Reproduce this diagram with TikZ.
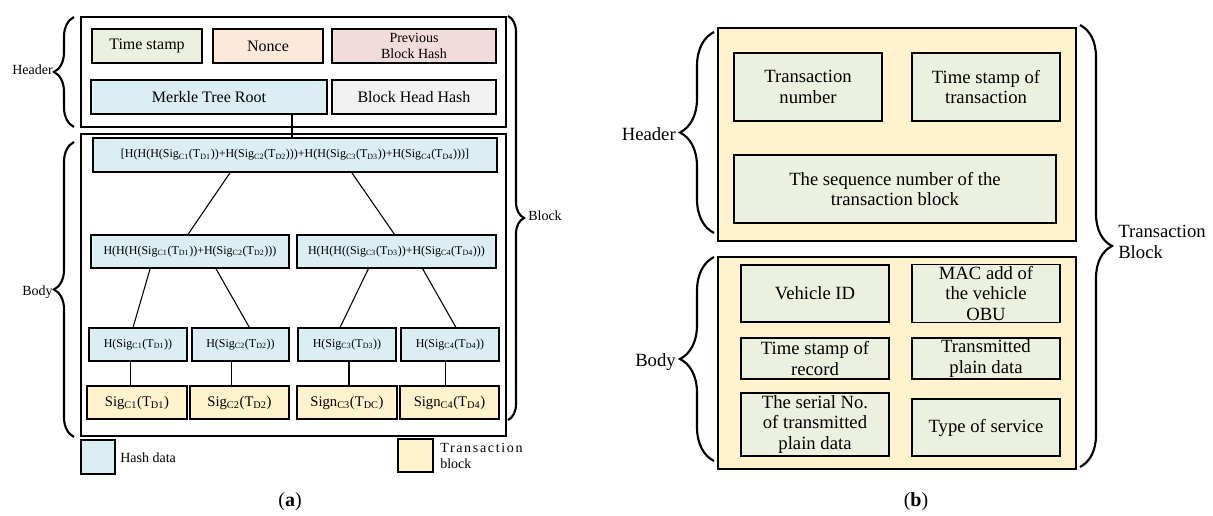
\documentclass[tikz,border=0pt]{standalone}
\usepackage{fontspec}
\setmainfont{Liberation Serif}
\newfontfamily\spacedfont[LetterSpace=12]{Liberation Serif}
\usepackage{tikz}
\usetikzlibrary{calc,positioning,decorations.pathreplacing}
\usepackage{xcolor}
\definecolor{hashblue}{HTML}{DAEEF3}
\definecolor{txyellow}{HTML}{FFF2CC}
\definecolor{stampgreen}{HTML}{EBF1DE}
\definecolor{noncepeach}{HTML}{FDE9D9}
\definecolor{prevpink}{HTML}{F2DCDB}
\definecolor{headgray}{HTML}{F2F2F2}
\newlength{\pxu}
\setlength{\pxu}{0.75pt}
\newcommand{\sg}[2]{Sig\textsubscript{#1}(T\textsubscript{#2})}
\tikzset{
  wh/.style 2 args={minimum width=#1\pxu, minimum height=#2\pxu},
  cell/.style={draw, line width=0.9pt, inner sep=1pt, align=center},
  frame/.style={draw, line width=0.9pt, inner sep=0pt},
  wire/.style={line width=0.8pt},
  curly/.style={decorate, decoration={brace, amplitude=#1\pxu}, line width=1.6pt},
  fa/.style={font=\fontsize{12}{13}\selectfont},
  fh/.style={font=\fontsize{9}{10}\selectfont},
  fs/.style={font=\fontsize{11}{12}\selectfont},
  fb/.style={font=\fontsize{14}{15.5}\selectfont},
  lbl/.style={font=\fontsize{10.5}{12}\selectfont, inner sep=0pt}
}

\begin{document}
\begin{tikzpicture}[x=0.75pt, y=-0.75pt]
\useasboundingbox (0,0) rectangle (1213,516);

%====================================================
% (a) BLOCK: HEADER
%====================================================
\node[frame, wh={425}{110}] (hdr) at (293.5,72) {};
\node[cell, fa, fill=stampgreen, wh={110}{34}] (ts) at (147,46) {Time stamp};
\node[cell, fa, fill=noncepeach, wh={110}{34}] (nonce) at (268,46) {Nonce};
\node[cell, lbl, fill=prevpink, wh={164}{34}] (prev) at (414,46) {Previous\\Block Hash};
\node[cell, fa, fill=hashblue, wh={236}{34}] (merkle) at (209,97) {Merkle Tree Root};
\node[cell, fa, fill=headgray, wh={164}{34}] (bhh) at (414,97) {Block Head Hash};

%====================================================
% (a) BLOCK: BODY (MERKLE TREE)
%====================================================
\node[frame, wh={425}{302}] (bdy) at (293.5,285) {};
\node[cell, fh, fill=hashblue, wh={404}{34}] (root) at (295,155)
  {[H(H(H(\sg{C1}{D1})+H(\sg{C2}{D2}))+H(H(\sg{C3}{D3})+H(\sg{C4}{D4}))]};
\node[cell, fh, fill=hashblue, wh={198}{33}] (l2a) at (190,251.5)
  {H(H(H(\sg{C1}{D1})+H(\sg{C2}{D2}))};
\node[cell, fh, fill=hashblue, wh={199}{33}] (l2b) at (396.5,251.5)
  {H(H(H((\sg{C3}{D3})+H(\sg{C4}{D4}))};
\node[cell, fh, fill=hashblue, wh={98}{33}] (h1) at (138,344.5) {H(\sg{C1}{D1})};
\node[cell, fh, fill=hashblue, wh={97}{33}] (h2) at (240.5,344.5) {H(\sg{C2}{D2})};
\node[cell, fh, fill=hashblue, wh={98}{33}] (h3) at (347,344.5) {H(\sg{C3}{D3})};
\node[cell, fh, fill=hashblue, wh={98}{33}] (h4) at (450,344.5) {H(\sg{C4}{D4})};
\node[cell, fs, fill=txyellow, wh={100}{33}] (s1) at (137,402.5) {\sg{C1}{D1}};
\node[cell, fs, fill=txyellow, wh={99}{33}] (s2) at (239.5,402.5) {\sg{C2}{D2}};
\node[cell, fs, fill=txyellow, wh={100}{33}] (s3) at (347,402.5) {Sign\textsubscript{C3}(T\textsubscript{DC})};
\node[cell, fs, fill=txyellow, wh={99}{33}] (s4) at (449.5,402.5) {Sign\textsubscript{C4}(T\textsubscript{D4})};

\draw[wire] ($(merkle.south west)!0.85!(merkle.south east)$) coordinate (mk) -- (mk |- root.north);
\foreach \a/\fa/\b/\fb in {root/0.34/l2a/0.49, root/0.64/l2b/0.49, l2a/0.30/h1/0.45,
    l2a/0.63/h2/0.59, l2b/0.36/h3/0.43, l2b/0.63/h4/0.56}
  \draw[wire] ($(\a.south west)!\fa!(\a.south east)$) -- ($(\b.north west)!\fb!(\b.north east)$);
\foreach \a/\fa/\b in {h1/0.42/s1, h2/0.41/s2, h3/0.52/s3, h4/0.45/s4}
  \draw[wire] ($(\a.south west)!\fa!(\a.south east)$) coordinate (tmp) -- (tmp |- \b.north);

% braces and legend
\draw[curly=20] (74,127) -- (74,17);
\node[lbl, anchor=east] (hdrlbl) at (53,70) {Header};
\draw[curly=20] (74,437) -- (74,142);
\node[lbl, anchor=east] (bdylbl) at (53,292) {Body};
\draw[curly=16] (508,16) -- (508,420);
\node[lbl, anchor=west] (blklbl) at (528,216) {Block};

\node[cell, fill=hashblue, wh={34}{34}] (keyhash) at (98,457) {};
\node[lbl, anchor=west] (keyhashtxt) at (120,458) {Hash data};
\node[cell, fill=txyellow, wh={35}{33}] (keytx) at (415.5,455.5) {};
\node[lbl, anchor=west, align=left] (keytxtxt) at (440,456) {{\spacedfont Transaction}\\block};

\node[font=\fontsize{15}{16}\selectfont] (capa) at (290,502) {(\textbf{a})};

%====================================================
% (b) TRANSACTION BLOCK
%====================================================
\node[frame, fill=txyellow, wh={358}{213}] (hdrb) at (897,134.5) {};
\node[cell, fb, fill=stampgreen, wh={148}{68}] (tnum) at (808,87) {Transaction\\number};
\node[cell, fb, fill=stampgreen, wh={148}{68}] (tstamp) at (986,87) {Time stamp of\\transaction};
\node[cell, fb, fill=stampgreen, wh={322}{68}] (seq) at (895,189) {The sequence number of the\\transaction block};

\node[frame, fill=txyellow, wh={358}{212}] (bdyb) at (897,363) {};
\node[cell, fb, fill=stampgreen, wh={148}{57}] (vid) at (815,293.5) {Vehicle ID};
\node[cell, fb, fill=stampgreen, wh={148}{57}] (mac) at (986,293.5) {MAC add of\\the vehicle\\OBU};
\node[cell, fb, fill=stampgreen, wh={148}{41}] (tsr) at (815,358.5) {Time stamp of\\record};
\node[cell, fb, fill=stampgreen, wh={148}{41}] (tpd) at (986,358.5) {Transmitted\\plain data};
\node[cell, fb, fill=stampgreen, wh={148}{63}] (ser) at (815,424.5) {The serial No.\\of transmitted\\plain data};
\node[cell, fb, fill=stampgreen, wh={148}{57}] (tos) at (986,427.5) {Type of service};

\draw[curly=34] (714,233) -- (714,32);
\node[fb, inner sep=0pt, anchor=east] (hdrblbl) at (676,134) {Header};
\draw[curly=34] (714,461) -- (714,257);
\node[fb, inner sep=0pt, anchor=east] (bdyblbl) at (676,362) {Body};
\draw[curly=32] (1080,25) -- (1080,467);
\node[fb, inner sep=0pt, anchor=west, align=left] (txblbl) at (1118,242) {Transaction\\Block};

\node[font=\fontsize{15}{16}\selectfont] (capb) at (916,502) {(\textbf{b})};
\end{tikzpicture}
\end{document}
